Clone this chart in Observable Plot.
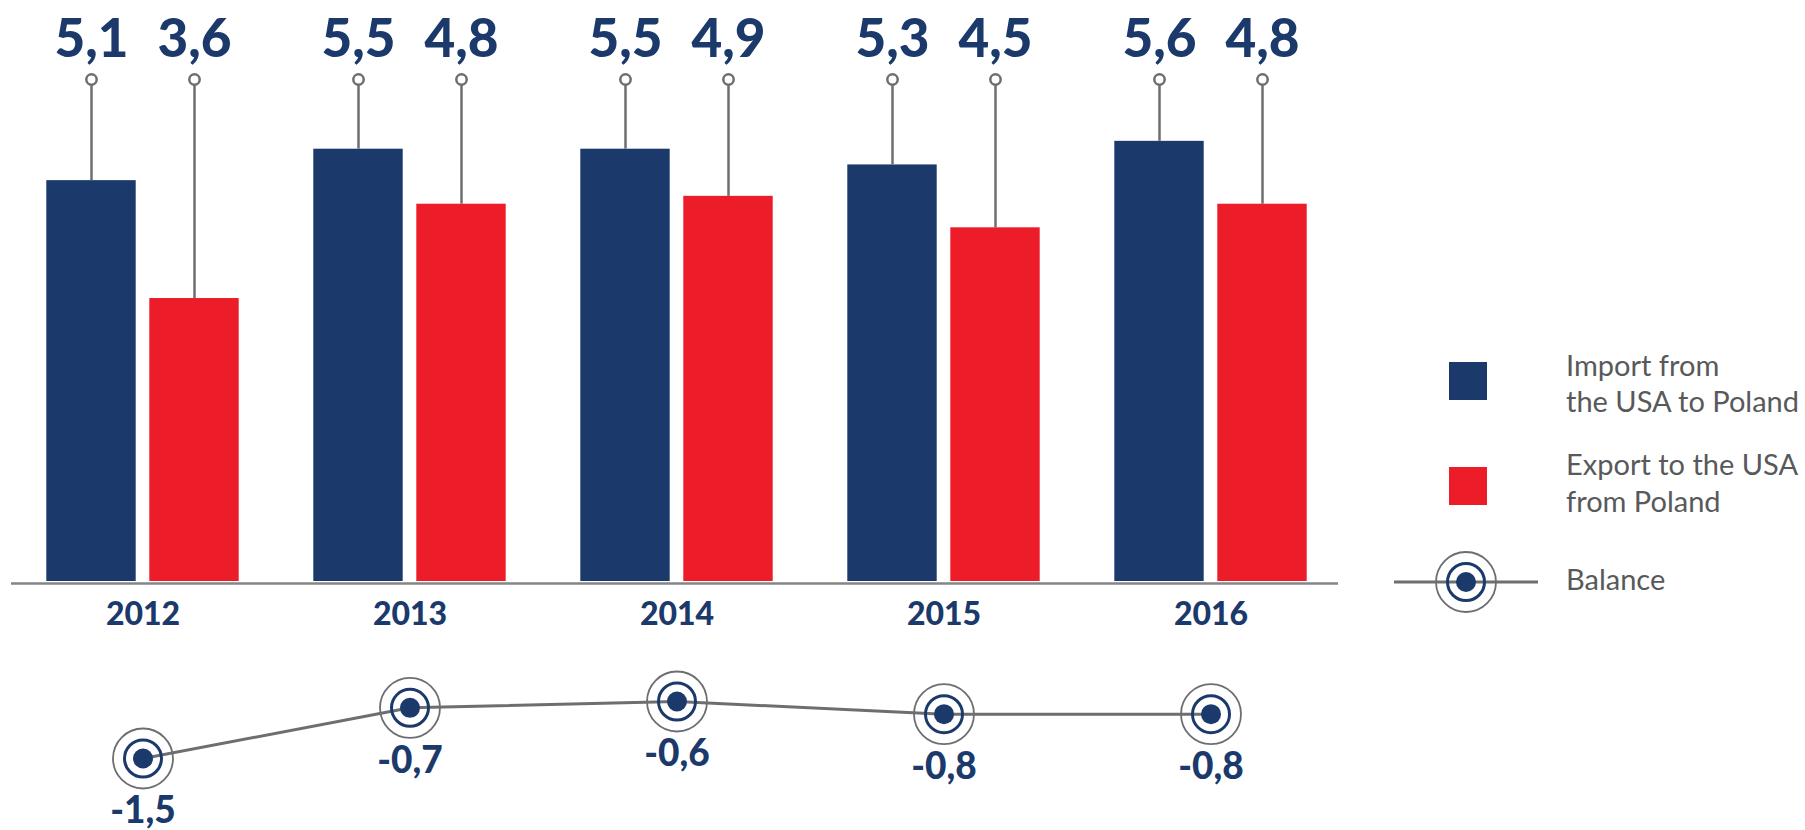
<!DOCTYPE html>
<html><head><meta charset="utf-8">
<script src="https://cdn.jsdelivr.net/npm/d3@7"></script>
<script src="https://cdn.jsdelivr.net/npm/@observablehq/plot@0.6"></script>
<style>
body{margin:0;background:#fff;}
#wrap{position:relative;width:1805px;height:830px;overflow:hidden;background:#fff;}
#wrap svg{display:block;}
#legend{position:absolute;left:0;top:0;}
</style></head><body><div id="wrap"></div>
<script>
const years = ["2012", "2013", "2014", "2015", "2016"];
const importValues = [5.1, 5.5, 5.5, 5.3, 5.6];
const exportValues = [3.6, 4.8, 4.9, 4.5, 4.8];
const balanceValues = [-1.5, -0.7, -0.6, -0.8, -0.8];
const legendLabels = [["Import from", "the USA to Poland"], ["Export to the USA", "from Poland"], ["Balance"]];

const NAVY = "#1b3a6b", RED = "#ed1c29", GRAY = "#6d6e71", TEXTGRAY = "#58595b";
const FONT = "Lato, 'Open Sans', sans-serif";
const fmt = v => v.toFixed(1).replace(".", ",");

const imp = years.map((y, i) => ({year: y, value: importValues[i]}));
const exp = years.map((y, i) => ({year: y, value: exportValues[i]}));
const bal = years.map((y, i) => ({year: y, value: balanceValues[i]}));

const xScale = {type: "band", domain: years, range: [7.7, 1345.8], padding: 0, axis: null};
const OFF = 51.5;

// bar y scale; helper to express a pixel height in data units of that scale
const yDomain = [0, 7], yRange = [581, 30.8];
const yInv = d3.scaleLinear(yDomain, yRange).invert;
const stemTop = yInv(85);   // top of the lollipop stems
const stemDot = yInv(79);   // lollipop head

const topPlot = Plot.plot({
  width: 1805, height: 640, margin: 0,
  style: {fontFamily: FONT, background: "transparent"},
  x: xScale,
  y: {domain: yDomain, range: yRange, axis: null},
  marks: [
    Plot.barY(imp, {x: "year", y: "value", fill: NAVY, insetLeft: 37.3, insetRight: 140.3}),
    Plot.barY(exp, {x: "year", y: "value", fill: RED, insetLeft: 140.3, insetRight: 37.3}),
    Plot.ruleX(imp, {x: "year", y1: "value", y2: () => stemTop, dx: -OFF, stroke: GRAY, strokeWidth: 2.5}),
    Plot.ruleX(exp, {x: "year", y1: "value", y2: () => stemTop, dx: OFF, stroke: GRAY, strokeWidth: 2.5}),
    Plot.dot(imp, {x: "year", y: () => stemDot, dx: -OFF, r: 5.2, fill: "white", stroke: GRAY, strokeWidth: 2.5}),
    Plot.dot(exp, {x: "year", y: () => stemDot, dx: OFF, r: 5.2, fill: "white", stroke: GRAY, strokeWidth: 2.5}),
    Plot.text(imp, {x: "year", text: d => fmt(d.value), frameAnchor: "top", lineAnchor: "middle", dy: 40, dx: -OFF, fontSize: 53, fontWeight: 900, fill: NAVY, fontFamily: FONT}),
    Plot.text(exp, {x: "year", text: d => fmt(d.value), frameAnchor: "top", lineAnchor: "middle", dy: 40, dx: OFF, fontSize: 53, fontWeight: 900, fill: NAVY, fontFamily: FONT}),
    Plot.ruleY([0], {stroke: "#858585", strokeWidth: 2.5, insetLeft: 11, insetRight: 467, dy: 2}),
    Plot.text(years, {x: d => d, text: d => d, frameAnchor: "bottom", lineAnchor: "middle", dy: -26, fontSize: 32, fontWeight: 900, fill: NAVY, fontFamily: FONT})
  ]
});

const bottomPlot = Plot.plot({
  width: 1805, height: 190, margin: 0,
  style: {fontFamily: FONT, background: "transparent"},
  x: xScale,
  y: {domain: [-1.5, -0.6], range: [118, 61], axis: null},
  marks: [
    Plot.line(bal, {x: "year", y: "value", stroke: GRAY, strokeWidth: 3}),
    Plot.dot(bal, {x: "year", y: "value", r: 30, fill: "none", stroke: GRAY, strokeWidth: 1.8}),
    Plot.dot(bal, {x: "year", y: "value", r: 18.5, fill: "none", stroke: NAVY, strokeWidth: 3}),
    Plot.dot(bal, {x: "year", y: "value", r: 10, fill: NAVY, stroke: "none"}),
    Plot.text(bal, {x: "year", y: "value", text: d => fmt(d.value), dy: 53, fontSize: 37, fontWeight: 900, fill: NAVY, fontFamily: FONT})
  ]
});

const wrap = document.getElementById("wrap");
wrap.appendChild(topPlot);
wrap.appendChild(bottomPlot);

// Legend
const leg = d3.create("svg").attr("id", "legend").attr("width", 1805).attr("height", 830);
leg.append("rect").attr("x", 1449).attr("y", 362).attr("width", 38).attr("height", 38).attr("fill", NAVY);
leg.append("rect").attr("x", 1449).attr("y", 467).attr("width", 38).attr("height", 38).attr("fill", RED);
leg.append("line").attr("x1", 1394).attr("x2", 1538).attr("y1", 582).attr("y2", 582).attr("stroke", GRAY).attr("stroke-width", 3);
leg.append("circle").attr("cx", 1466).attr("cy", 582).attr("r", 30).attr("fill", "none").attr("stroke", GRAY).attr("stroke-width", 1.8);
leg.append("circle").attr("cx", 1466).attr("cy", 582).attr("r", 18.5).attr("fill", "none").attr("stroke", NAVY).attr("stroke-width", 3);
leg.append("circle").attr("cx", 1466).attr("cy", 582).attr("r", 10).attr("fill", NAVY);
const baselines = [[376, 412], [475, 512], [590]];
legendLabels.forEach((lines, k) => {
  lines.forEach((t, j) => {
    leg.append("text").attr("x", 1566).attr("y", baselines[k][j]).attr("fill", TEXTGRAY)
      .attr("font-family", FONT).attr("font-size", 29).text(t);
  });
});
wrap.appendChild(leg.node());
</script></body></html>
